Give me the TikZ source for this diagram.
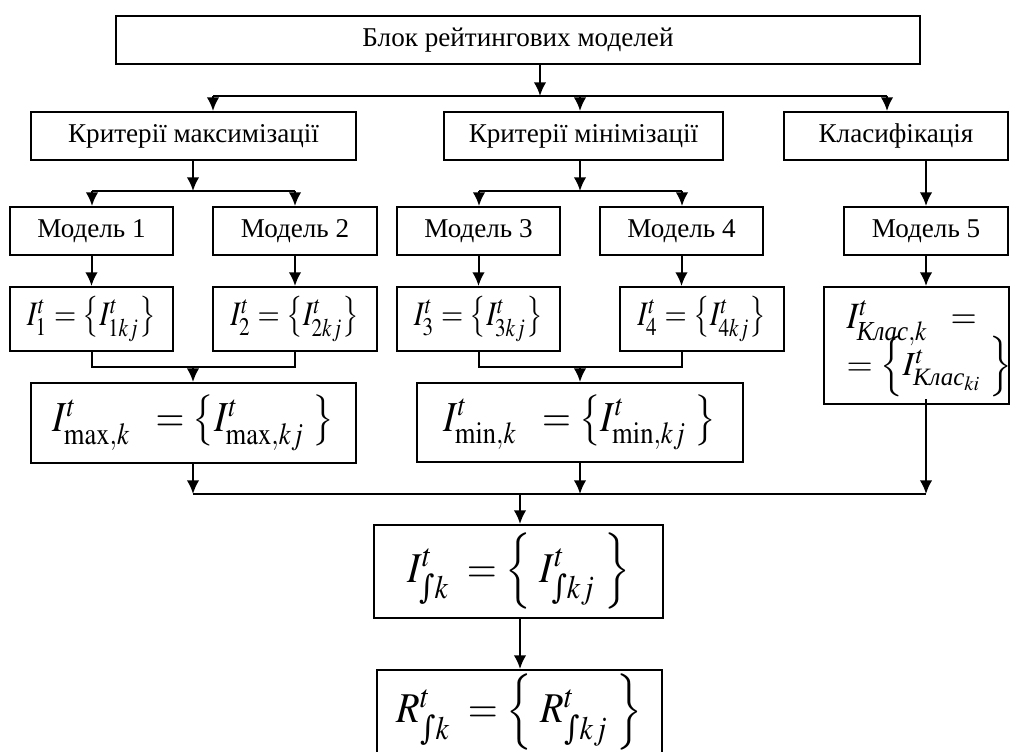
\documentclass[tikz,border=0pt]{standalone}
\usepackage{graphicx}
\usepackage{amsmath}
\usepackage{mathptmx}
\usepackage{fontspec}
\setmainfont{Liberation Serif}
\newfontfamily\dejav{DejaVu Serif}
\usetikzlibrary{arrows.meta}
\DeclareMathSizes{13}{13}{9.3}{7}
\DeclareMathSizes{13.5}{13.5}{10.4}{8}
\newcommand{\intsub}{\text{\dejav ∫}}
\newcommand{\kls}{\text{\itshape Клас}}
\begin{document}
\begin{tikzpicture}[x=0.35pt,y=-0.35pt,
  bx/.style 2 args={draw,line width=0.7pt,inner sep=0pt,rectangle,
     minimum width=#1*0.35pt,minimum height=#2*0.35pt},
  lbl/.style={font=\fontsize{9.5}{11}\selectfont},
  fsmall/.style={font=\fontsize{10}{12}\selectfont},
  fbig/.style={font=\fontsize{13}{15}\selectfont},
  fint/.style={font=\fontsize{13.5}{16}\selectfont},
  fkl/.style={font=\fontsize{11.8}{14}\selectfont,inner sep=0pt,anchor=west},
  ln/.style={line width=0.7pt},
  arr/.style={line width=0.7pt,-{Latex[length=4.8pt,width=4.4pt]}}]
\useasboundingbox (0,0) rectangle (1011,751);
\fill[white] (0,0) rectangle (1011,751);

% boxes
\node[bx={804}{48},lbl] (top) at (518,40) {Блок рейтингових моделей};
\node[bx={325}{48},lbl] (krmax) at (193.5,136) {Критерії максимізації};
\node[bx={279}{48},lbl] (krmin) at (583.5,136) {Критерії мінімізації};
\node[bx={224}{48},lbl] (klasif) at (896,136) {Класифікація};
\node[bx={163}{48},lbl] (m1) at (91.5,231) {Модель 1};
\node[bx={164}{48},lbl] (m2) at (295,231) {Модель 2};
\node[bx={163}{48},lbl] (m3) at (478.5,231) {Модель 3};
\node[bx={163}{48},lbl] (m4) at (681.5,231) {Модель 4};
\node[bx={164}{48},lbl] (m5) at (926,231) {Модель 5};
\node[bx={163}{64},fsmall] (i1) at (91.5,319) {\scalebox{1}[1.2]{$I^{t}_{1}=\bigl\{I^{t}_{1kj}\bigr\}$}};
\node[bx={164}{64},fsmall] (i2) at (295,319) {\scalebox{1}[1.2]{$I^{t}_{2}=\bigl\{I^{t}_{2kj}\bigr\}$}};
\node[bx={163}{64},fsmall] (i3) at (478.5,319) {\scalebox{1}[1.2]{$I^{t}_{3}=\bigl\{I^{t}_{3kj}\bigr\}$}};
\node[bx={164}{64},fsmall] (i4) at (702,319) {\scalebox{1}[1.2]{$I^{t}_{4}=\bigl\{I^{t}_{4kj}\bigr\}$}};
\node[bx={185}{117}] (klas) at (916.5,345.5) {};
\node[fkl] (klas1) at (846,323) {\scalebox{1}[1.1]{$I^{t}_{\kls,k}\;\;=$}};
\node[fkl] (klas2) at (846,367) {$=\Bigl\{I^{t}_{\kls_{ki}}\;\Bigr\}$};
\node[bx={325}{80},fbig] (imax) at (193.5,423) {\scalebox{1}[1.15]{$I^{t}_{\mathrm{max},k}\;\;=\bigl\{I^{t}_{\mathrm{max},kj}\;\bigr\}$}};
\node[bx={326}{79},fbig] (imin) at (580,422.5) {\scalebox{1}[1.15]{$I^{t}_{\mathrm{min},k}\;\;=\bigl\{I^{t}_{\mathrm{min},kj}\;\bigr\}$}};
\node[bx={289}{93},fint] (iint) at (518.5,571.5) {\scalebox{1}[1.1]{$I^{t}_{\intsub k}\;=\Bigl\{\;I^{t}_{\intsub kj}\;\Bigr\}$}};
\node[bx={285}{120}] (r) at (519.5,730) {};
\node[fint,inner sep=0pt] (rtxt) at (519.5,712) {\scalebox{1}[1.1]{$R^{t}_{\intsub k}\;=\Bigl\{\;R^{t}_{\intsub kj}\;\Bigr\}$}};

% junctions
\coordinate (h1) at (540,96);
\coordinate (hA) at (213,96);
\coordinate (hB) at (580,96);
\coordinate (hC) at (887,96);
\coordinate (g1) at (193,191);
\coordinate (g1a) at (92,191);
\coordinate (g1b) at (295,191);
\coordinate (g2) at (580,191);
\coordinate (g2a) at (479,191);
\coordinate (g2b) at (682,191);
\coordinate (k1) at (193,367);
\coordinate (k2) at (580,367);
\coordinate (b1) at (193,494);
\coordinate (b2) at (580,494);
\coordinate (b3) at (926,494);
\coordinate (bm) at (520,494);

% connectors
\draw[arr] (top.south -| h1) -- (h1);
\draw[ln] (hA) -- (hC);
\draw[arr] (hA) -- (hA |- krmax.north);
\draw[arr] (hB) -- (hB |- krmin.north);
\draw[arr] (hC) -- (hC |- klasif.north);

\draw[arr] (krmax.south -| g1) -- (g1);
\draw[ln] (g1a) -- (g1b);
\draw[arr] (g1a) -- (g1a |- m1.north);
\draw[arr] (g1b) -- (g1b |- m2.north);
\draw[arr] (krmin.south -| g2) -- (g2);
\draw[ln] (g2a) -- (g2b);
\draw[arr] (g2a) -- (g2a |- m3.north);
\draw[arr] (g2b) -- (g2b |- m4.north);
\draw[arr] (klasif.south -| m5.north) -- (m5.north);

\draw[arr] (m1.south) -- (m1.south |- i1.north);
\draw[arr] (m2.south) -- (m2.south |- i2.north);
\draw[arr] (m3.south) -- (m3.south |- i3.north);
\draw[arr] (m4.south) -- (m4.south |- i4.north);
\draw[arr] (m5.south) -- (m5.south |- klas.north);

\draw[ln] (i1.south) -- (i1.south |- k1) -- (i2.south |- k1) -- (i2.south);
\draw[arr] (k1) -- (k1 |- imax.north);
\draw[ln] (i3.south) -- (i3.south |- k2) -- (m4.south |- k2) -- (m4.south |- i4.south);
\draw[arr] (k2) -- (k2 |- imin.north);

\draw[arr] (imax.south -| b1) -- (b1);
\draw[arr] (imin.south -| b2) -- (b2);
\draw[arr] ([yshift=2pt]klas.south -| b3) -- (b3);
\draw[ln] (b1) -- (b3);
\draw[arr] (bm) -- (bm |- iint.north);
\draw[arr] (iint.south -| bm) -- (bm |- r.north);
\end{tikzpicture}
\end{document}
